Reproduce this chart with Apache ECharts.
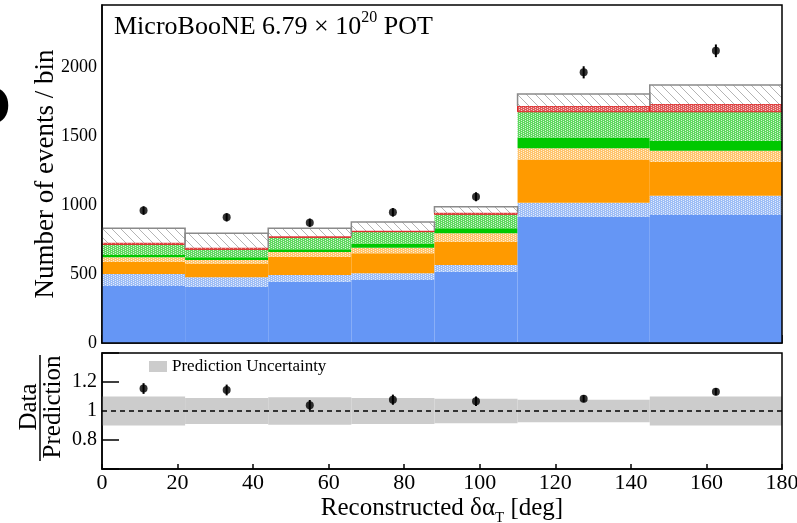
<!DOCTYPE html>
<html><head><meta charset="utf-8">
<script src="https://cdn.jsdelivr.net/npm/echarts@6/dist/echarts.min.js"></script>
<style>html,body{margin:0;padding:0;background:#fff}#c{width:797px;height:523px}</style>
</head><body><div id="c"></div>
<script>
// ---- data ----
const binEdges    = [0, 22, 44, 66, 88, 110, 145, 180];
const blueSolid   = [413, 408, 444, 457, 517, 915, 928];
const blueHatch   = [87, 68, 49, 48, 48, 102, 139];
const orangeSolid = [89, 101, 132, 145, 169, 314, 247];
const orangeHatch = [32, 24, 34, 41, 61, 80, 79];
const greenSolid  = [17, 20, 20, 31, 36, 79, 73];
const greenHatch  = [77, 58, 87, 85, 102, 186, 210];
const redBand     = [12, 12, 8, 7, 11, 41, 56];
const otherBkg    = [104, 104, 57, 63, 44, 87, 138];
const dataCounts  = [960, 911, 872, 947, 1060, 1962, 2118];
const dataErr     = [31, 30, 30, 31, 33, 44, 46];
const ratioVals   = [1.155, 1.145, 1.04, 1.078, 1.067, 1.085, 1.133];
const ratioErr    = [0.037, 0.037, 0.036, 0.035, 0.033, 0.025, 0.025];
const predUnc     = [0.10, 0.09, 0.095, 0.09, 0.085, 0.078, 0.10];
const ratioTickLabels = ['0.8', '1', '1.2'];
const FONT = '"Liberation Serif", "Times New Roman", serif';

// ---- patterns ----
function dotPattern(base, light) {
  const c = document.createElement('canvas'); c.width = 4; c.height = 4;
  const g = c.getContext('2d');
  g.fillStyle = base; g.fillRect(0, 0, 4, 4);
  g.fillStyle = light;
  g.fillRect(1, 0, 1, 1); g.fillRect(1, 2, 1, 1); g.fillRect(3, 1, 1, 1); g.fillRect(3, 3, 1, 1);
  return { image: c, repeat: 'repeat' };
}
function diagPattern() {
  const n = 9;
  const c = document.createElement('canvas'); c.width = n; c.height = n;
  const g = c.getContext('2d');
  g.fillStyle = '#fff'; g.fillRect(0, 0, n, n);
  g.strokeStyle = '#b4b4b4'; g.lineWidth = 1;
  g.beginPath();
  g.moveTo(-1, -1); g.lineTo(n + 1, n + 1);
  g.moveTo(-1, n - 1); g.lineTo(1, n + 1);
  g.moveTo(n - 1, -1); g.lineTo(n + 1, 1);
  g.stroke();
  return { image: c, repeat: 'repeat' };
}

const layers = [blueSolid, blueHatch, orangeSolid, orangeHatch, greenSolid, greenHatch, redBand, otherBkg];
const layerStyles = [
  { fill: '#6596f5' },
  { fill: dotPattern('#9dbdf6', '#e4ecfc') },
  { fill: '#ff9a00' },
  { fill: dotPattern('#ffc46c', '#fff0d8') },
  { fill: '#00c800' },
  { fill: dotPattern('#5fd85f', '#d6f6d6') },
  { fill: dotPattern('#e05a5a', '#f6caca'), stroke: '#dd2020', lineWidth: 1 },
  { fill: diagPattern() }
];

const stackItems = [];
const outlineItems = [];
for (let i = 0; i < binEdges.length - 1; i++) {
  let base = 0;
  for (let L = 0; L < layers.length; L++) {
    const v = layers[L][i];
    stackItems.push([binEdges[i], binEdges[i + 1], base, base + v, L]);
    if (L === layers.length - 1) outlineItems.push([binEdges[i], binEdges[i + 1], base, base + v]);
    base += v;
  }
}
const centers = binEdges.slice(0, -1).map((e, i) => (e + binEdges[i + 1]) / 2);
const dataPts = centers.map((c, i) => [c, dataCounts[i]]);
const dataErrItems = centers.map((c, i) => [c, dataCounts[i] - dataErr[i], dataCounts[i] + dataErr[i]]);
const ratioPts = centers.map((c, i) => [c, ratioVals[i]]);
const ratioErrItems = centers.map((c, i) => [c, ratioVals[i] - ratioErr[i], ratioVals[i] + ratioErr[i]]);
const bandItems = centers.map((c, i) => [binEdges[i], binEdges[i + 1], 1 - predUnc[i], 1 + predUnc[i]]);

function rectItem(params, api) {
  const a = api.coord([api.value(0), api.value(2)]);
  const b = api.coord([api.value(1), api.value(3)]);
  const L = api.value(4);
  return { type: 'rect', shape: { x: a[0], y: b[1], width: b[0] - a[0], height: a[1] - b[1] },
           style: Object.assign({}, layerStyles[L]) };
}
function outlineItem(params, api) {
  const a = api.coord([api.value(0), api.value(2)]);
  const b = api.coord([api.value(1), api.value(3)]);
  return { type: 'polyline', shape: { points: [[a[0], a[1]], [a[0], b[1]], [b[0], b[1]], [b[0], a[1]]] },
           style: { fill: null, stroke: '#8a8a8a', lineWidth: 1.5 } };
}
function bandItem(params, api) {
  const a = api.coord([api.value(0), api.value(2)]);
  const b = api.coord([api.value(1), api.value(3)]);
  return { type: 'rect', shape: { x: a[0], y: b[1], width: b[0] - a[0], height: a[1] - b[1] },
           style: { fill: '#cccccc' } };
}
function errItem(params, api) {
  const a = api.coord([api.value(0), api.value(1)]);
  const b = api.coord([api.value(0), api.value(2)]);
  return { type: 'line', shape: { x1: a[0], y1: a[1], x2: b[0], y2: b[1] },
           style: { stroke: '#000', lineWidth: 2 } };
}

const chart = echarts.init(document.getElementById('c'), null, { renderer: 'canvas' });
const G = { left: 102, width: 680 };
chart.setOption({
  animation: false,
  backgroundColor: '#fff',
  title: {
    text: 'MicroBooNE 6.79 × 10{sup|20} POT',
    left: 109, top: 5,
    textStyle: { fontFamily: FONT, fontSize: 26, fontWeight: 'normal', color: '#000', lineHeight: 34,
      rich: { sup: { fontFamily: FONT, fontSize: 16, verticalAlign: 'top', color: '#000' } } }
  },
  legend: {
    data: ['Prediction Uncertainty'], left: 149, top: 358, padding: 0,
    icon: 'rect', itemWidth: 18, itemHeight: 11, itemGap: 5,
    textStyle: { fontFamily: FONT, fontSize: 17, color: '#000' }
  },
  grid: [
    { left: G.left, width: G.width, top: 5, height: 338, containLabel: false, outerBoundsMode: 'none' },
    { left: G.left, width: G.width, top: 353, height: 116, containLabel: false, outerBoundsMode: 'none' }
  ],
  xAxis: [
    { type: 'value', gridIndex: 0, min: 0, max: 180, interval: 20,
      axisLine: { show: true, lineStyle: { color: '#000', width: 1.5 } },
      axisTick: { show: true, inside: true, length: 8, lineStyle: { color: '#000', width: 1.5 } },
      axisLabel: { show: false }, splitLine: { show: false } },
    { type: 'value', gridIndex: 1, min: 0, max: 180, interval: 20,
      axisLine: { show: true, lineStyle: { color: '#000', width: 1.5 } },
      axisTick: { show: true, inside: true, length: 5, lineStyle: { color: '#000', width: 1.5 } },
      axisLabel: { fontFamily: FONT, fontSize: 22, color: '#000', margin: 3, hideOverlap: false },
      splitLine: { show: false },
      name: 'Reconstructed δα{sub|T} [deg]', nameLocation: 'middle', nameGap: 21, nameMoveOverlap: false,
      nameTextStyle: { fontFamily: FONT, fontSize: 25, color: '#000', lineHeight: 36,
        rich: { sub: { fontFamily: FONT, fontSize: 15, verticalAlign: 'bottom', color: '#000' } } } }
  ],
  yAxis: [
    { type: 'value', gridIndex: 0, min: 0, max: 2450, interval: 500,
      axisLine: { show: true, lineStyle: { color: '#000', width: 1.5 } },
      axisTick: { show: false },
      axisLabel: { fontFamily: FONT, fontSize: 18, color: '#000', margin: 5,
        formatter: v => (v > 2400 ? '' : String(v)) },
      splitLine: { show: false },
      name: 'Number of events / bin', nameLocation: 'middle', nameGap: 43, nameMoveOverlap: false,
      nameTextStyle: { fontFamily: FONT, fontSize: 27, color: '#000' } },
    { type: 'value', gridIndex: 1, min: 0.6, max: 1.4, interval: 0.2,
      axisLine: { show: true, lineStyle: { color: '#000', width: 1.5 } },
      axisTick: { show: true, inside: true, length: 17, lineStyle: { color: '#000', width: 1.5 } },
      axisLabel: { fontFamily: FONT, fontSize: 20, color: '#000', margin: 5,
        formatter: v => { const s = String(+v.toFixed(1)); return ratioTickLabels.indexOf(s) >= 0 ? s : ''; } },
      splitLine: { show: false } }
  ],
  graphic: [
    { type: 'rect', shape: { x: 102, y: 5, width: 680, height: 338 }, style: { fill: null, stroke: '#000', lineWidth: 1.5 }, z: 100 },
    { type: 'rect', shape: { x: 102, y: 353, width: 680, height: 116 }, style: { fill: null, stroke: '#000', lineWidth: 1.5 }, z: 100 },
    { type: 'text', x: 29, y: 407, rotation: Math.PI / 2,
      style: { text: 'Data', font: '25px ' + FONT, fill: '#000', textAlign: 'center', textVerticalAlign: 'middle' } },
    { type: 'line', shape: { x1: 40, y1: 355, x2: 40, y2: 461 }, style: { stroke: '#000', lineWidth: 1.5 } },
    { type: 'text', x: 53, y: 407, rotation: Math.PI / 2,
      style: { text: 'Prediction', font: '25px ' + FONT, fill: '#000', textAlign: 'center', textVerticalAlign: 'middle' } },
    { type: 'text', x: 11, y: 106,
      style: { text: 'b', font: 'bold 60px "DejaVu Sans", sans-serif', fill: '#000', textAlign: 'right', textVerticalAlign: 'middle' } }
  ],
  series: [
    { type: 'custom', name: 'stack', xAxisIndex: 0, yAxisIndex: 0, renderItem: rectItem,
      encode: { x: [0, 1], y: [2, 3] }, data: stackItems, clip: true, silent: true },
    { type: 'custom', name: 'outline', xAxisIndex: 0, yAxisIndex: 0, renderItem: outlineItem,
      encode: { x: [0, 1], y: [2, 3] }, data: outlineItems, clip: true, silent: true, z: 3 },
    { type: 'custom', name: 'dataErr', xAxisIndex: 0, yAxisIndex: 0, renderItem: errItem,
      encode: { x: 0, y: [1, 2] }, data: dataErrItems, z: 4 },
    { type: 'scatter', name: 'Data', xAxisIndex: 0, yAxisIndex: 0, data: dataPts,
      symbol: 'circle', symbolSize: 8, itemStyle: { color: '#000' }, z: 5 },
    { type: 'custom', name: 'Prediction Uncertainty', xAxisIndex: 1, yAxisIndex: 1, renderItem: bandItem,
      encode: { x: [0, 1], y: [2, 3] }, data: bandItems, itemStyle: { color: '#cccccc' }, silent: true },
    { type: 'line', name: 'unity', xAxisIndex: 1, yAxisIndex: 1, data: [[0, 1], [180, 1]],
      symbol: 'none', lineStyle: { color: '#000', width: 1.3, type: [5, 4] }, z: 3 },
    { type: 'custom', name: 'ratioErr', xAxisIndex: 1, yAxisIndex: 1, renderItem: errItem,
      encode: { x: 0, y: [1, 2] }, data: ratioErrItems, z: 4 },
    { type: 'scatter', name: 'Ratio', xAxisIndex: 1, yAxisIndex: 1, data: ratioPts,
      symbol: 'circle', symbolSize: 8, itemStyle: { color: '#000' }, z: 5 }
  ]
});
</script>
</body></html>
